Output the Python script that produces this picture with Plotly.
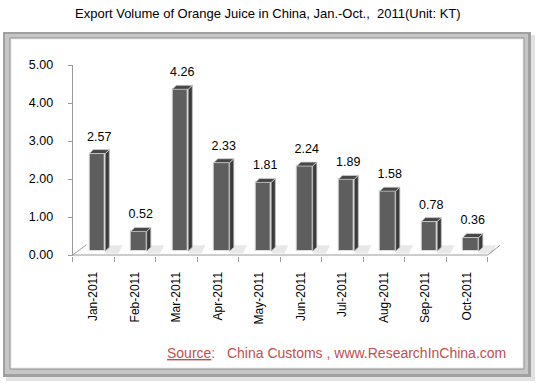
import plotly.graph_objects as go

# ---- data ----
categories = ["Jan-2011", "Feb-2011", "Mar-2011", "Apr-2011", "May-2011",
              "Jun-2011", "Jul-2011", "Aug-2011", "Sep-2011", "Oct-2011"]
values = [2.57, 0.52, 4.26, 2.33, 1.81, 2.24, 1.89, 1.58, 0.78, 0.36]
y_ticks = [0, 1, 2, 3, 4, 5]
title_text = "Export Volume of Orange Juice in China, Jan.-Oct.,\u00a0\u00a02011(Unit: KT)"
source_text = "<u>Source</u>:\u00a0\u00a0 China Customs , www.ResearchInChina.com"

# ---- 3D projection constants (in axis units) ----
W = 0.385      # bar front width
OFF = 0.09     # bar shift inside category
DX = 0.10      # depth, x
DY = 0.105     # depth, y
BASE = 0.10    # front face base (floor depth)
FDX, FDY = 0.33, 0.27  # floor depth

W_PX, H_PX = 537, 383
n = len(categories)
idx = list(range(n))

fig = go.Figure()

# floor edges
fig.add_trace(go.Scatter(
    x=[-0.5 + FDX, -0.5, None, n - 0.5, n - 0.5 + FDX * 0.9],
    y=[FDY, 0, None, 0, FDY * 0.95],
    mode="lines", line=dict(color="#9a9a9a", width=1), hoverinfo="skip", showlegend=False))

# shadows on floor
sx, sy = [], []
for i, v in enumerate(values):
    xr = i + OFF + W / 2
    sx += [xr, xr + 0.32, xr + 0.42, xr + DX, xr, None]
    sy += [0.04, 0.04, FDY * 0.95, FDY * 0.95, 0.04, None]
fig.add_trace(go.Scatter(x=sx, y=sy, mode="lines", fill="toself",
                         fillcolor="rgba(0,0,0,0.09)", line=dict(width=0),
                         hoverinfo="skip", showlegend=False))

# x axis front line
fig.add_trace(go.Scatter(x=[-0.5, n - 0.5], y=[0, 0], mode="lines",
                         line=dict(color="#9a9a9a", width=1), hoverinfo="skip", showlegend=False))

# front faces
fig.add_trace(go.Bar(
    x=[i + OFF for i in idx], y=values, base=BASE, width=W,
    marker=dict(color="#5e5e5e", line=dict(color="#dcdcdc", width=1)),
    hoverinfo="skip", showlegend=False))

# side faces
px_, py_ = [], []
for i, v in enumerate(values):
    xr = i + OFF + W / 2
    px_ += [xr, xr + DX, xr + DX, xr, xr, None]
    py_ += [BASE, BASE + DY, v + BASE + DY, v + BASE, BASE, None]
fig.add_trace(go.Scatter(x=px_, y=py_, mode="lines", fill="toself",
                         fillcolor="#3a3a3a", line=dict(color="#bdbdbd", width=0.8),
                         hoverinfo="skip", showlegend=False))

# top faces
tx, ty = [], []
for i, v in enumerate(values):
    xl = i + OFF - W / 2
    xr = i + OFF + W / 2
    top = v + BASE
    tx += [xl, xr, xr + DX, xl + DX, xl, None]
    ty += [top, top, top + DY, top + DY, top, None]
fig.add_trace(go.Scatter(x=tx, y=ty, mode="lines", fill="toself",
                         fillcolor="#474747", line=dict(color="#d0d0d0", width=0.8),
                         hoverinfo="skip", showlegend=False))

# data labels
fig.add_trace(go.Scatter(
    x=[i + OFF + DX / 2 for i in idx], y=[v + BASE + DY + 0.32 for v in values],
    mode="text", text=[f"{v:.2f}" for v in values], textposition="middle center",
    textfont=dict(family="Liberation Sans, Arial", size=12.5, color="#000000"),
    cliponaxis=False, hoverinfo="skip", showlegend=False))

# ---- frame ----
shapes = [
    dict(type="rect", xref="paper", yref="paper", x0=6 / W_PX, x1=535 / W_PX,
         y0=1 - 381 / H_PX, y1=1 - 35 / H_PX, fillcolor="#e2e2e2", line=dict(width=0), layer="below"),
    dict(type="rect", xref="paper", yref="paper", x0=3 / W_PX, x1=531 / W_PX,
         y0=1 - 377 / H_PX, y1=1 - 32 / H_PX, fillcolor="#a0a0a0", line=dict(width=0), layer="below"),
    dict(type="rect", xref="paper", yref="paper", x0=5 / W_PX, x1=528 / W_PX,
         y0=1 - 374 / H_PX, y1=1 - 34 / H_PX, fillcolor="#c6c6c6", line=dict(width=0), layer="below"),
    dict(type="rect", xref="paper", yref="paper", x0=10 / W_PX, x1=524 / W_PX,
         y0=1 - 369 / H_PX, y1=1 - 38 / H_PX, fillcolor="#f4f4f4",
         line=dict(color="#8e8e8e", width=1), layer="below"),
    dict(type="rect", xref="paper", yref="paper", x0=12 / W_PX, x1=522 / W_PX,
         y0=1 - 367 / H_PX, y1=1 - 40 / H_PX, fillcolor="#ffffff", line=dict(width=0), layer="below"),
]

# plot area geometry (pixels)
x_left, px_per_x = 72.7, 41.5
x_range = [-0.5, 9.85]
x_right = x_left + (x_range[1] - x_range[0]) * px_per_x
y_top, px_per_y = 65.0, 38.0
y_range = [-0.03, 5]
y_bottom = y_top + (y_range[1] - y_range[0]) * px_per_y

fig.update_layout(
    width=W_PX, height=H_PX,
    margin=dict(l=0, r=0, t=0, b=0),
    paper_bgcolor="#ffffff", plot_bgcolor="rgba(0,0,0,0)",
    shapes=shapes,
    bargap=0,
    font=dict(family="Liberation Sans, Arial", color="#000000"),
    annotations=[
        dict(text=title_text, xref="paper", yref="paper", x=268 / W_PX, y=1 - 13 / H_PX,
             xanchor="center", yanchor="middle", showarrow=False,
             font=dict(family="Liberation Sans, Arial", size=13, color="#000000")),
        dict(text=source_text, xref="paper", yref="paper", x=508 / W_PX, y=1 - 353 / H_PX,
             xanchor="right", yanchor="middle", showarrow=False,
             font=dict(family="Liberation Sans, Arial", size=14, color="#c0504d")),
    ],
    xaxis=dict(
        domain=[x_left / W_PX, x_right / W_PX], range=x_range, autorange=False,
        showline=False, showgrid=False, zeroline=False,
        tickmode="array", tickvals=idx, ticktext=categories, tickangle=-90,
        ticks="outside", ticklen=5, tickcolor="rgba(0,0,0,0)",
        tickfont=dict(family="Liberation Sans, Arial", size=12, color="#000000"),
        ticklabelstandoff=5,
        minor=dict(tickmode="array", tickvals=[i - 0.5 for i in range(n + 1)],
                   ticks="outside", ticklen=5, tickcolor="#9a9a9a", showgrid=False),
        automargin=False, fixedrange=True),
    yaxis=dict(
        domain=[1 - y_bottom / H_PX, 1 - y_top / H_PX], range=y_range, autorange=False,
        showline=True, linecolor="#9a9a9a", linewidth=1, showgrid=False, zeroline=False,
        tickmode="array", tickvals=y_ticks, ticktext=[f"{t:.2f}" for t in y_ticks],
        ticks="outside", ticklen=4, tickcolor="#9a9a9a",
        ticklabelstandoff=12,
        tickfont=dict(family="Liberation Sans, Arial", size=12.5, color="#000000"),
        automargin=False, fixedrange=True),
)

fig.write_html("out.html", config={"displayModeBar": False},
               post_script="document.body.style.margin='0';document.body.style.overflow='hidden';")
